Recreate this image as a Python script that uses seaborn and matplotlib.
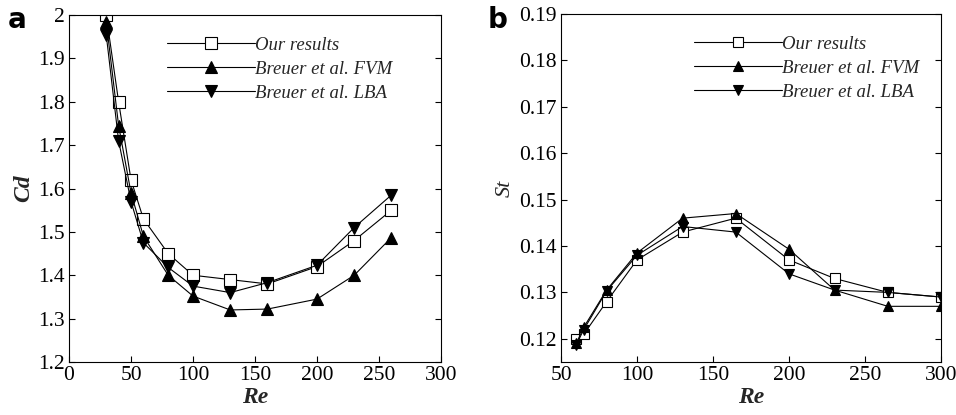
import numpy as np
import pandas as pd
import matplotlib
matplotlib.use("Agg")
import matplotlib.pyplot as plt
import seaborn as sns

sns.set_theme(style="ticks")
plt.rcParams['font.family'] = ['Liberation Serif', 'DejaVu Serif']

# Panel a: drag coefficient
re_a = [30, 40, 50, 60, 80, 100, 130, 160, 200, 230, 260]
cd_ours = [2.0, 1.80, 1.62, 1.53, 1.45, 1.40, 1.39, 1.38, 1.42, 1.48, 1.55]
cd_fvm = [1.985, 1.745, 1.59, 1.49, 1.40, 1.352, 1.32, 1.322, 1.345, 1.40, 1.487]
cd_lba = [1.955, 1.71, 1.57, 1.475, 1.418, 1.375, 1.36, 1.383, 1.423, 1.51, 1.585]

# Panel b: Strouhal number
re_b = [60, 65, 80, 100, 130, 165, 200, 230, 265, 300]
st_ours = [0.120, 0.121, 0.128, 0.137, 0.143, 0.146, 0.137, 0.133, 0.130, 0.129]
st_fvm = [0.119, 0.1225, 0.1305, 0.1385, 0.146, 0.147, 0.1393, 0.1305, 0.127, 0.127]
st_lba = [0.1187, 0.122, 0.1303, 0.138, 0.1442, 0.143, 0.134, 0.1305, 0.130, 0.129]

labels = ["Our results", "Breuer et al. FVM", "Breuer et al. LBA"]
markers = ["s", "^", "v"]
mfc = ["white", "black", "black"]

fig = plt.figure(figsize=(9.56, 4.15), dpi=100)
ax1 = fig.add_axes([69/956, 1-362/415, (441-69)/956, (362-15)/415])
ax2 = fig.add_axes([561/956, 1-362/415, (941-561)/956, (362-14)/415])

def draw(ax, x, ys, ms, anchor_x):
    for y, lab, m, fc in zip(ys, labels, markers, mfc):
        df = pd.DataFrame({"x": x, "y": y})
        sns.lineplot(data=df, x="x", y="y", ax=ax, color="black", lw=0.8,
                     marker=m, markersize=ms, markerfacecolor=fc,
                     markeredgecolor="black", markeredgewidth=0.8, label=lab)
    leg = ax.legend(loc="upper right", bbox_to_anchor=(anchor_x, 0.97), frameon=False,
                    handlelength=4.7, handletextpad=0.0, labelspacing=0.36,
                    borderaxespad=0.2,
                    prop={"family": "Liberation Serif", "style": "italic", "size": 13.5})
    for line in leg.get_lines():
        line.set_linewidth(0.8)
    ax.tick_params(direction="in", which="both", top=False, right=True,
                   labelsize=15.5, length=4, width=0.8, colors="black", pad=3)
    for s in ax.spines.values():
        s.set_linewidth(0.8)
        s.set_color("black")

draw(ax1, re_a, [cd_ours, cd_fvm, cd_lba], 8, 0.9)
ax1.set_xlim(0, 300)
ax1.set_ylim(1.2, 2.0)
ax1.set_xticks([0, 50, 100, 150, 200, 250, 300])
ax1.set_yticks(np.round(np.arange(1.2, 2.01, 0.1), 1))
ax1.set_yticklabels(["1.2", "1.3", "1.4", "1.5", "1.6", "1.7", "1.8", "1.9", "2"])
ax1.set_xlabel("Re", fontsize=17, fontweight="bold", style="italic", labelpad=1)
ax1.set_ylabel("Cd", fontsize=17, fontweight="bold", style="italic", labelpad=3)

draw(ax2, re_b, [st_ours, st_fvm, st_lba], 7, 0.972)
ax2.set_xlim(50, 300)
ax2.set_ylim(0.115, 0.19)
ax2.set_xticks([50, 100, 150, 200, 250, 300])
ax2.set_yticks([0.12, 0.13, 0.14, 0.15, 0.16, 0.17, 0.18, 0.19])
ax2.set_yticklabels(["0.12", "0.13", "0.14", "0.15", "0.16", "0.17", "0.18", "0.19"])
ax2.set_xlabel("Re", fontsize=17, fontweight="bold", style="italic", labelpad=1)
ax2.set_ylabel("St", fontsize=16, style="italic", labelpad=3)

fig.text(8/956, 1-28/415, "a", fontsize=20, fontweight="bold", family="DejaVu Sans", color="black")
fig.text(488/956, 1-28/415, "b", fontsize=20, fontweight="bold", family="DejaVu Sans", color="black")

fig.savefig("out.png", dpi=100)
